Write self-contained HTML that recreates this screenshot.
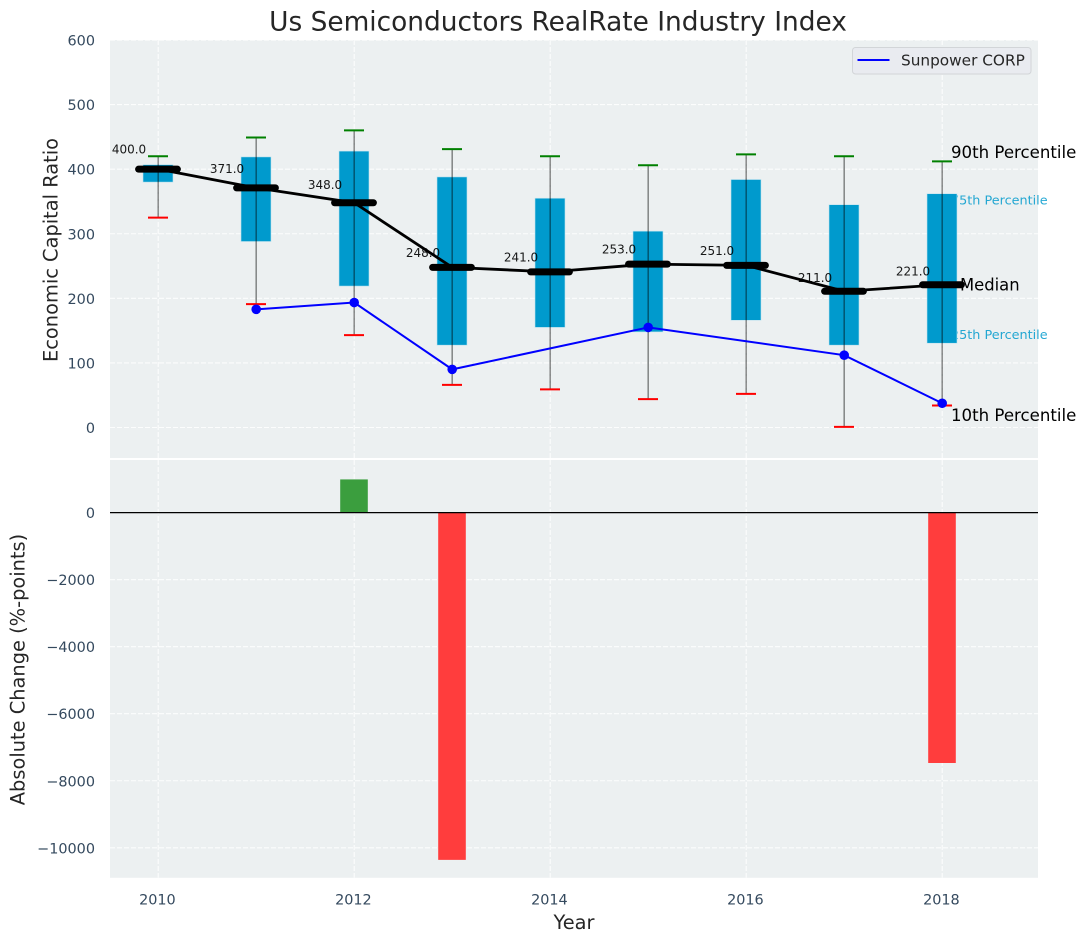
<!DOCTYPE html>
<html>
<head>
<meta charset="utf-8">
<title>Us Semiconductors RealRate Industry Index</title>
<style>
html,body{margin:0;padding:0;background:#fff;width:1086px;height:942px;overflow:hidden}
svg{display:block;font-family:"DejaVu Sans","Liberation Sans",sans-serif}
</style>
</head>
<body>
<svg id="chart" xmlns="http://www.w3.org/2000/svg" width="1086" height="942" viewBox="0 0 1086 942">
  <rect x="110" y="40" width="928" height="418" fill="#ecf0f1"/>
  <rect x="110" y="460" width="928" height="417.8" fill="#ecf0f1"/>
  <g id="grid"></g>
  <text x="951" y="204.5" font-size="12.8" fill="#009acd" fill-opacity="0.85">75th Percentile</text>
  <text x="951" y="339" font-size="12.8" fill="#009acd" fill-opacity="0.85">25th Percentile</text>
  <g id="marks"></g>
  <text x="558" y="30.5" font-size="26.4" fill="#262626" text-anchor="middle">Us Semiconductors RealRate Industry Index</text>
  <text x="0" y="0" transform="translate(57.5,250) rotate(-90)" font-size="19.4" fill="#262626" text-anchor="middle">Economic Capital Ratio</text>
  <text x="0" y="0" transform="translate(24.5,669.5) rotate(-90)" font-size="19.4" fill="#262626" text-anchor="middle">Absolute Change (%-points)</text>
  <text x="574" y="929" font-size="19.4" fill="#262626" text-anchor="middle">Year</text>
  <text x="951" y="158" font-size="16.6" fill="#000">90th Percentile</text>
  <text x="960" y="290.5" font-size="16.4" fill="#000">Median</text>
  <text x="951" y="421" font-size="16.6" fill="#000">10th Percentile</text>
  <g>
    <rect x="852.5" y="47.5" width="178.5" height="26.5" rx="3" fill="#e9ebf0" stroke="#d2d5d8" stroke-width="1"/>
    <line x1="857.5" x2="889.5" y1="60" y2="60" stroke="#0000ff" stroke-width="2"/>
    <text x="901" y="65.5" font-size="15.3" fill="#262626">Sunpower CORP</text>
  </g>
</svg>
<script>
const years = [2010, 2011, 2012, 2013, 2014, 2015, 2016, 2017, 2018];
const p90 = [420, 449, 460, 431, 420, 406, 423, 420, 412];
const p75 = [407, 419, 428, 388, 355, 304, 384, 345, 362];
const median = [400, 371, 348, 248, 241, 253, 251, 211, 221];
const p25 = [380, 288, 219, 127.5, 155, 148, 166, 127.5, 130.5];
const p10 = [325, 191, 143, 66, 59, 44, 52, 1, 34];
const sunpower = [null, 183, 193.5, 90, null, 155, null, 112, 37.5];
const changes = [null, null, 990, -10360, null, null, null, null, -7470];
const xTicks = [2010, 2012, 2014, 2016, 2018];
const topTicks = [0, 100, 200, 300, 400, 500, 600];
const bottomTicks = [0, -2000, -4000, -6000, -8000, -10000];

const NS = 'http://www.w3.org/2000/svg';
const gridLayer = document.getElementById('grid');
const markLayer = document.getElementById('marks');
const xScale = function (v) { return 158.2 + (v - 2010) * 98; };
const yTop = function (v) { return 427.5 - v * 0.6458; };
const yBottom = function (v) { return 512.6 - v * 0.03352; };
function make(tag, parent, attrs) {
  const node = document.createElementNS(NS, tag);
  Object.keys(attrs).forEach(function (k) { node.setAttribute(k, attrs[k]); });
  parent.appendChild(node);
  return node;
}
const gridStyle = { stroke: '#ffffff', 'stroke-width': 1.1, 'stroke-dasharray': '5 2', 'stroke-opacity': 0.85 };
function gridLine(x1, y1, x2, y2) {
  return make('line', gridLayer, Object.assign({ x1: x1, y1: y1, x2: x2, y2: y2 }, gridStyle));
}
xTicks.forEach(function (t) {
  const a = gridLine(xScale(t), 40, xScale(t), 458);
  
  
  const b = gridLine(xScale(t), 460, xScale(t), 877.8);
  
  
  const label = make('text', markLayer, { x: xScale(t) - 0.8, y: 904.5, 'font-size': 14.4, fill: '#34495e', 'text-anchor': 'middle' });
  label.textContent = String(t);
  
  
});
topTicks.forEach(function (t) {
  const g = gridLine(110, yTop(t), 1038, yTop(t));
  
  
  const label = make('text', markLayer, { x: 95, y: yTop(t) + 5.5, 'font-size': 14.4, fill: '#34495e', 'text-anchor': 'end' });
  label.textContent = String(t);
  
  
});
bottomTicks.forEach(function (t) {
  const g = gridLine(110, yBottom(t), 1038, yBottom(t));
  
  
  const label = make('text', markLayer, { x: 95, y: yBottom(t) + 5.5, 'font-size': 14.4, fill: '#34495e', 'text-anchor': 'end' });
  label.textContent = String(t).replace('-', '\u2212');
  
  
});
// percentile boxes
years.forEach(function (yr, i) {
  const box = make('rect', markLayer, { x: xScale(yr) - 15.2, y: yTop(p75[i]), width: 30, height: yTop(p25[i]) - yTop(p75[i]), fill: '#009acd', stroke: '#bfe3ef', 'stroke-width': 0.6 });
  
  
});
// whiskers and caps
years.forEach(function (yr, i) {
  const w = make('line', markLayer, { x1: xScale(yr), x2: xScale(yr), y1: yTop(p90[i]), y2: yTop(p10[i]), stroke: '#000', 'stroke-width': 1.5, 'stroke-opacity': 0.45 });
  
  
  const hi = make('line', markLayer, { x1: xScale(yr) - 10.2, x2: xScale(yr) + 9.8, y1: yTop(p90[i]), y2: yTop(p90[i]), stroke: '#008000', 'stroke-width': 2 });
  
  
  const lo = make('line', markLayer, { x1: xScale(yr) - 10.2, x2: xScale(yr) + 9.8, y1: yTop(p10[i]), y2: yTop(p10[i]), stroke: '#ff0000', 'stroke-width': 2 });
  
  
});
// median trend
const medianPath = make('polyline', markLayer, { points: years.map(function (yr, i) { return xScale(yr) + ',' + yTop(median[i]); }).join(' '), fill: 'none', stroke: '#000', 'stroke-width': 2.8 });


years.forEach(function (yr, i) {
  const m = make('line', markLayer, { x1: xScale(yr) - 19.6, x2: xScale(yr) + 19.2, y1: yTop(median[i]), y2: yTop(median[i]), stroke: '#000', 'stroke-width': 7, 'stroke-linecap': 'round' });
  
  
  const t = make('text', markLayer, { x: xScale(yr) - 29.2, y: yTop(median[i] * 1.055 + 9) + 4.2, 'font-size': 12, fill: '#000', 'fill-opacity': 0.9, 'text-anchor': 'middle' });
  t.textContent = median[i].toFixed(1);
  
  
});
// company series
const sunpowerPoints = [];
years.forEach(function (yr, i) {
  if (sunpower[i] !== null) { sunpowerPoints.push(xScale(yr) + ',' + yTop(sunpower[i])); }
});
const sunpowerPath = make('polyline', markLayer, { points: sunpowerPoints.join(' '), fill: 'none', stroke: '#0000ff', 'stroke-width': 2 });


years.forEach(function (yr, i) {
  if (sunpower[i] === null) { return; }
  const c = make('circle', markLayer, { cx: xScale(yr), cy: yTop(sunpower[i]), r: 4.8, fill: '#0000ff' });
  
  
});
// change bars
years.forEach(function (yr, i) {
  if (changes[i] === null) { return; }
  const top = Math.min(yBottom(changes[i]), yBottom(0));
  const h = Math.abs(yBottom(changes[i]) - yBottom(0));
  const b = make('rect', markLayer, { x: xScale(yr) - 14, y: top, width: 27.6, height: h, fill: changes[i] >= 0 ? '#3b9e3e' : '#ff3d3d' });
  
  
});
const zero = make('line', markLayer, { x1: 110, x2: 1038, y1: yBottom(0), y2: yBottom(0), stroke: '#000', 'stroke-width': 1.3 });


</script>
</body>
</html>
